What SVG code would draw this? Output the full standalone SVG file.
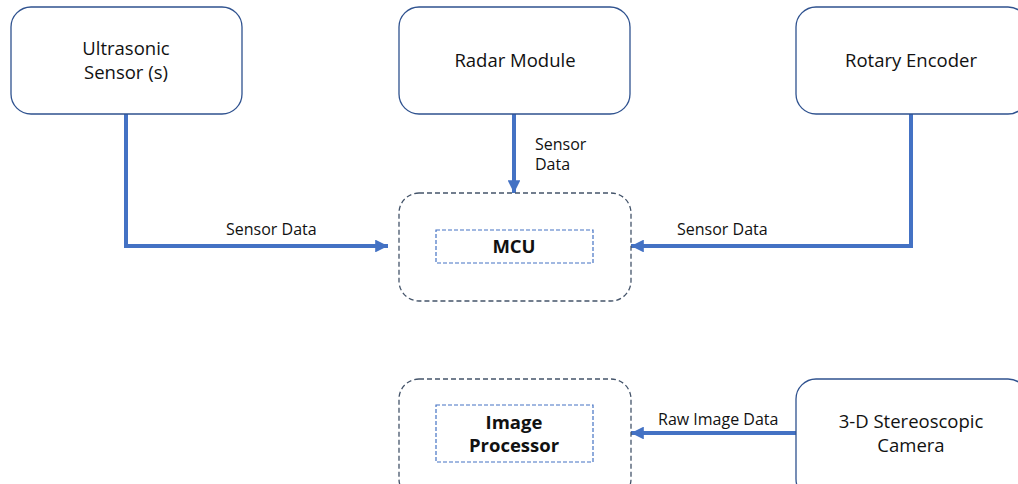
<svg xmlns="http://www.w3.org/2000/svg" width="1018" height="484" viewBox="0 0 1018 484">
  <style>
    .box { fill: #ffffff; stroke: #2F528F; stroke-width: 1.3; }
    .group { fill: none; stroke: #44546A; stroke-width: 1.3; stroke-dasharray: 5 3; }
    .inner { fill: none; stroke: #4472C4; stroke-width: 1.2; stroke-dasharray: 4 2; }
    .label { font-family: "Open Sans", "Noto Sans", sans-serif; font-size: 18.5px; fill: #111111; text-anchor: middle; }
    .bold { font-weight: bold; }
    .edge-label { font-family: "Open Sans", "Noto Sans", sans-serif; font-size: 16px; fill: #111111; }
    .wire { fill: none; stroke: #4472C4; stroke-width: 4; }
  </style>
  <defs>
    <marker id="arrow" viewBox="0 0 10 10" refX="10" refY="5" markerWidth="3.2" markerHeight="3.2" orient="auto" markerUnits="strokeWidth">
      <path d="M0,0 L10,5 L0,10 z" fill="#4472C4"/>
    </marker>
  </defs>

  <!-- connectors -->
  <g id="connectors">
    <polyline class="wire" points="126,114 126,246 388,246" marker-end="url(#arrow)"/>
    <line class="wire" x1="514" y1="114" x2="514" y2="193" marker-end="url(#arrow)"/>
    <polyline class="wire" points="911,114 911,246 631,246" marker-end="url(#arrow)"/>
    <line class="wire" x1="796" y1="433" x2="631" y2="433" marker-end="url(#arrow)"/>
    <text class="edge-label" x="226" y="235">Sensor Data</text>
    <text class="edge-label" x="535" y="150">Sensor</text>
    <text class="edge-label" x="535" y="170">Data</text>
    <text class="edge-label" x="677" y="235">Sensor Data</text>
    <text class="edge-label" x="658" y="425">Raw Image Data</text>
  </g>

  <g id="ultrasonic">
    <rect class="box" x="11" y="7" width="231" height="107" rx="20"/>
    <text class="label" x="126" y="55">Ultrasonic</text>
    <text class="label" x="126" y="79">Sensor (s)</text>
  </g>

  <g id="radar">
    <rect class="box" x="399" y="7" width="231" height="107" rx="20"/>
    <text class="label" x="515" y="67">Radar Module</text>
  </g>

  <g id="encoder">
    <rect class="box" x="796" y="7" width="232" height="107" rx="20"/>
    <text class="label" x="911" y="67">Rotary Encoder</text>
  </g>

  <g id="mcu">
    <rect class="group" x="399" y="193" width="232" height="108" rx="20"/>
    <rect class="inner" x="436" y="230" width="157" height="33"/>
    <text class="label bold" x="514" y="253">MCU</text>
  </g>

  <g id="image-processor">
    <rect class="group" x="399" y="379" width="232" height="120" rx="20"/>
    <rect class="inner" x="436" y="405" width="157" height="57"/>
    <text class="label bold" x="514" y="429">Image</text>
    <text class="label bold" x="514" y="452">Processor</text>
  </g>

  <g id="camera">
    <rect class="box" x="796" y="379" width="232" height="120" rx="20"/>
    <text class="label" x="911" y="428">3-D Stereoscopic</text>
    <text class="label" x="911" y="452">Camera</text>
  </g>
</svg>
